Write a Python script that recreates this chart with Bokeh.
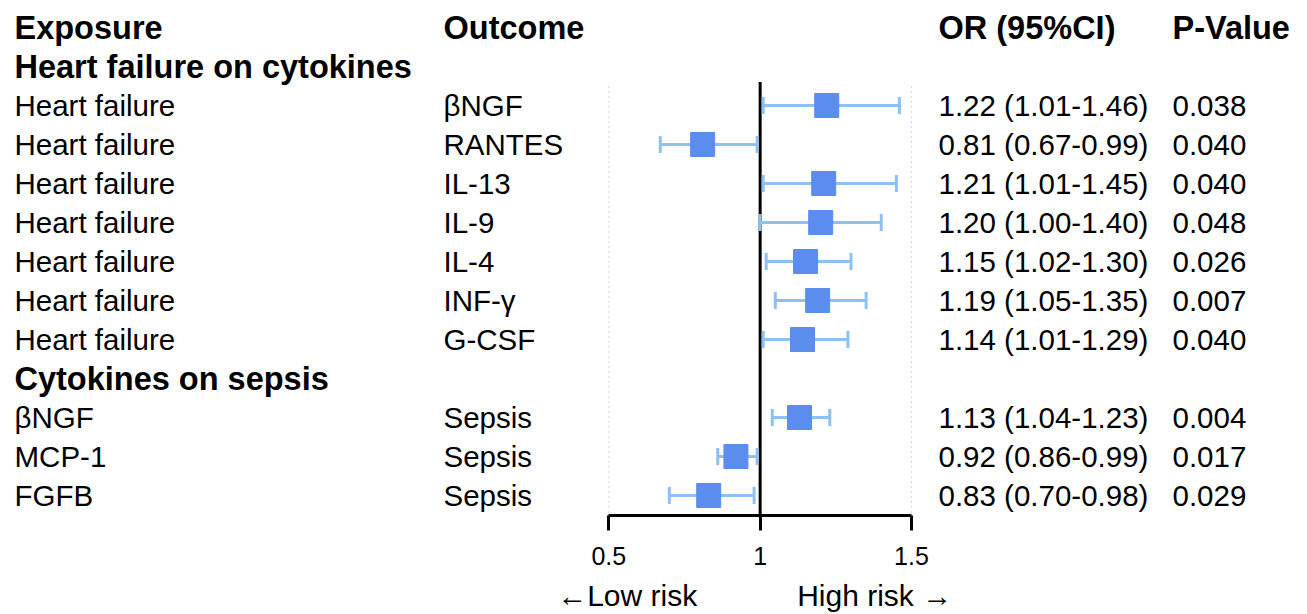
from bokeh.plotting import figure
from bokeh.models import Range1d, LinearAxis, FixedTicker, ColumnDataSource, NumeralTickFormatter
from bokeh.core.properties import value
from bokeh.embed import file_html
from bokeh.resources import INLINE

# ---------------- data ----------------
headers = ["Exposure", "Outcome", "OR (95%CI)", "P-Value"]
group_titles = ["Heart failure on cytokines", "Cytokines on sepsis"]
group_sizes = [7, 3]
exposure = ["Heart failure", "Heart failure", "Heart failure", "Heart failure",
            "Heart failure", "Heart failure", "Heart failure",
            "βNGF", "MCP-1", "FGFB"]
outcome = ["βNGF", "RANTES", "IL-13", "IL-9", "IL-4", "INF-γ", "G-CSF",
           "Sepsis", "Sepsis", "Sepsis"]
odds_ratio = [1.22, 0.81, 1.21, 1.20, 1.15, 1.19, 1.14, 1.13, 0.92, 0.83]
ci_low = [1.01, 0.67, 1.01, 1.00, 1.02, 1.05, 1.01, 1.04, 0.86, 0.70]
ci_high = [1.46, 0.99, 1.45, 1.40, 1.30, 1.35, 1.29, 1.23, 0.99, 0.98]
p_value = ["0.038", "0.040", "0.040", "0.048", "0.026", "0.007", "0.040",
           "0.004", "0.017", "0.029"]
tick_values = [0.5, 1, 1.5]
null_value = 1.0
risk_labels = ["←Low risk", "High risk →"]

# ---------------- layout ----------------
W, H = 1300, 614
FRAME_H = 515
PX_PER_UNIT = 302.7
X05_PX = 608.3            # figure px where x = 0.5
x_start = 0.5 - X05_PX / PX_PER_UNIT
x_end = x_start + W / PX_PER_UNIT
ROW_PX = 39
ROW0_PX = 27              # frame px (from top) of header row
y_end = -ROW0_PX / ROW_PX
y_start = y_end + FRAME_H / ROW_PX


def px(xpix):
    return x_start + xpix / PX_PER_UNIT


col_px = [14, 443, 938, 1172]
FONT = "Liberation Sans"
REG = "29.5px"
BOLD = "32.5px"

# rows
title_rows = []
item_rows = []
r = 1
for n in group_sizes:
    title_rows.append(r)
    item_rows.extend(range(r + 1, r + 1 + n))
    r += n + 1

or_text = [f"{o:.2f} ({l:.2f}-{h:.2f})" for o, l, h in zip(odds_ratio, ci_low, ci_high)]

src = ColumnDataSource(dict(
    y=item_rows, orv=odds_ratio, lo=ci_low, hi=ci_high,
    y_a=[v - 0.22 for v in item_rows], y_b=[v + 0.22 for v in item_rows],
    exp=exposure, out=outcome, ort=or_text, pv=p_value,
))

p = figure(width=W, height=H, x_range=Range1d(x_start, x_end),
           y_range=Range1d(y_start, y_end), output_backend="svg",
           toolbar_location=None, x_axis_location=None, y_axis_location=None,
           min_border_left=0, min_border_right=0, min_border_top=0,
           min_border_bottom=H - FRAME_H)
p.outline_line_color = None
p.grid.grid_line_color = None
p.background_fill_color = "white"
p.border_fill_color = "white"

nb = "\u00a0"
# axis label is centred on the frame; leading spaces move it under the forest plot
axis_text = nb * 25 + risk_labels[0] + nb * 12 + risk_labels[1]
axis = LinearAxis(ticker=FixedTicker(ticks=tick_values),
                  bounds=(tick_values[0], tick_values[-1]),
                  formatter=NumeralTickFormatter(format="0.[0]"),
                  axis_line_width=3, axis_line_color="black",
                  major_tick_line_width=3, major_tick_line_color="black",
                  major_tick_out=15, major_tick_in=0,
                  minor_tick_line_color=None,
                  major_label_text_font=FONT, major_label_text_font_size="25px",
                  major_label_text_color="black", major_label_standoff=16,
                  axis_label=axis_text,
                  axis_label_text_font=FONT, axis_label_text_font_size="30px",
                  axis_label_text_font_style="normal", axis_label_text_color="black",
                  axis_label_standoff=11)
p.add_layout(axis, "below")

# dotted gridlines
grid_top = 1.5
p.segment(x0=tick_values, x1=tick_values, y0=[grid_top] * len(tick_values),
          y1=[y_start] * len(tick_values), line_color="#d9d9d9",
          line_width=1, line_dash="2 3")

# null line
p.segment(x0=[null_value], x1=[null_value], y0=[1.4], y1=[y_start],
          line_color="black", line_width=3)

# CI whiskers
whisk = "#8EC0F3"
p.segment(x0="lo", x1="hi", y0="y", y1="y", source=src, line_color=whisk, line_width=3)
p.segment(x0="lo", x1="lo", y0="y_a", y1="y_b", source=src, line_color=whisk, line_width=3)
p.segment(x0="hi", x1="hi", y0="y_a", y1="y_b", source=src, line_color=whisk, line_width=3)

# squares
p.scatter(x="orv", y="y", source=src, marker="square", size=24,
          fill_color="#5B8DEE", line_color="#5B8DEE")

# header texts
p.text(x=[px(c) for c in col_px], y=[0] * 4, text=headers,
       text_font=value(FONT), text_font_style="bold", text_font_size=BOLD,
       text_baseline="middle", text_color="black")
p.text(x=[px(col_px[0])] * len(group_titles), y=title_rows, text=group_titles,
       text_font=value(FONT), text_font_style="bold", text_font_size=BOLD,
       text_baseline="middle", text_color="black")

for field, c in zip(["exp", "out", "ort", "pv"], col_px):
    p.text(x=px(c), y="y", text=field, source=src,
           text_font=value(FONT), text_font_size=REG,
           text_baseline="middle", text_color="black")

open("out.html", "w").write(file_html(p, INLINE))
